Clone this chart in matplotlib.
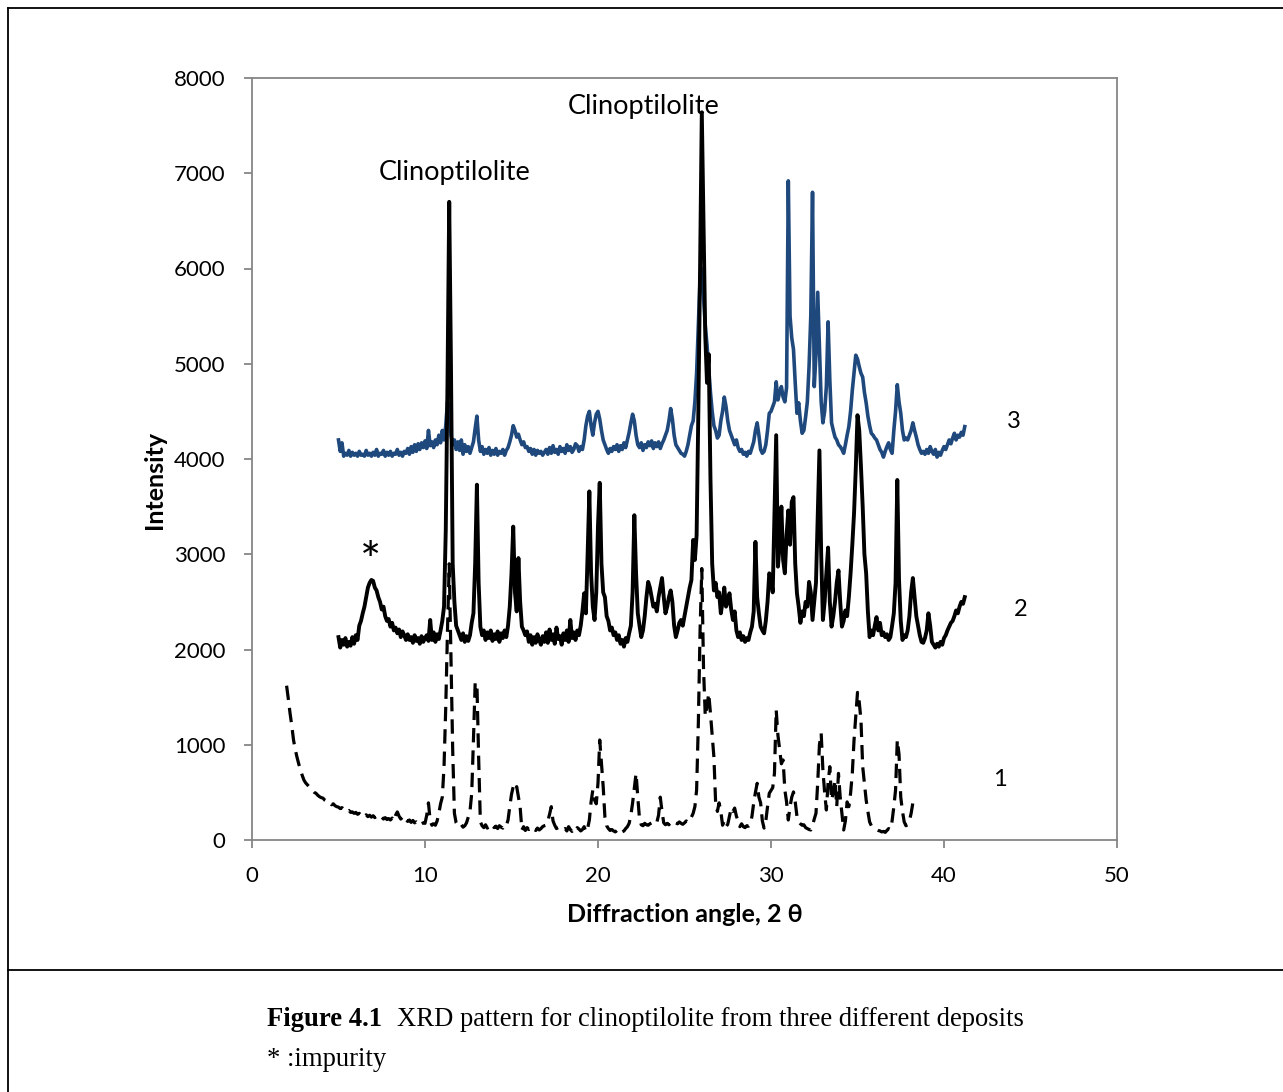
import numpy as np
import matplotlib
matplotlib.use("Agg")
import matplotlib.pyplot as plt
from matplotlib.lines import Line2D

# ---- data -------------------------------------------------------------
STEP = 0.1
start1, start2, start3 = 2.0, 5.0, 5.0

# Deposit 1 (dashed), 2.0 .. 38.3
y1 = [
    1620, 1480, 1330, 1200, 1050, 950, 870, 800, 735, 680,
    630, 600, 580, 560, 545, 520, 500, 490, 470, 455,
    445, 440, 420, 410, 390, 395, 370, 380, 360, 350,
    345, 330, 340, 320, 325, 300, 310, 290, 295, 280,
    290, 270, 280, 260, 275, 250, 265, 245, 260, 240,
    255, 235, 250, 230, 245, 240, 220, 235, 215, 225,
    210, 230, 200, 260, 295, 250, 220, 240, 200, 215,
    195, 210, 185, 205, 180, 190, 175, 195, 170, 180,
    175, 260, 390, 200, 155, 170, 155, 200, 280, 380,
    450, 770, 1400, 2200, 2900, 1900, 950, 280, 180, 150,
    140, 160, 135, 150, 180, 240, 300, 490, 1050, 1650,
    1650, 870, 190, 150, 130, 160, 125, 140, 120, 150,
    130, 145, 120, 150, 135, 125, 160, 150, 210, 350,
    480, 560, 520, 560, 450, 345, 105, 140, 100, 130,
    110, 120, 95, 115, 100, 125, 105, 120, 140, 150,
    155, 200, 270, 350, 200, 155, 120, 130, 110, 105,
    105, 120, 95, 140, 110, 90, 120, 100, 130, 115,
    95, 110, 140, 85, 120, 210, 400, 525, 420, 380,
    600, 1050, 800, 560, 240, 150, 120, 100, 110, 95,
    85, 100, 90, 110, 85, 95, 120, 140, 175, 260,
    390, 550, 700, 450, 220, 160, 150, 175, 160, 155,
    170, 180, 160, 175, 185, 260, 450, 300, 180, 160,
    175, 160, 185, 170, 165, 180, 170, 190, 175, 165,
    180, 200, 185, 195, 240, 280, 350, 525, 1225, 2200,
    2850, 1800, 1300, 1400, 1540, 1330, 1100, 870, 390, 300,
    390, 300, 155, 200, 140, 165, 250, 335, 300, 335,
    250, 200, 140, 170, 140, 130, 150, 145, 160, 250,
    390, 500, 595, 450, 390, 200, 125, 200, 350, 490,
    520, 550, 700, 1365, 1100, 945, 800, 840, 525, 400,
    210, 350, 450, 505, 400, 250, 190, 170, 155, 160,
    130, 120, 110, 105, 150, 220, 280, 600, 1000, 1120,
    735, 500, 315, 600, 770, 420, 500, 630, 350, 700,
    450, 280, 105, 200, 400, 350, 490, 700, 1050, 1300,
    1550, 1450, 1260, 770, 600, 420, 300, 190, 150, 130,
    120, 110, 100, 95, 85, 90, 80, 100, 120, 110,
    200, 350, 525, 1050, 900, 450, 300, 190, 150, 160,
    200, 280, 390, 380,
]

# Deposit 2 (solid black), 5.0 .. 41.2
y2 = [
    2130, 2020, 2100, 2050, 2120, 2030, 2080, 2040, 2130, 2060,
    2150, 2100, 2250, 2300, 2380, 2450, 2550, 2650, 2700, 2730,
    2720, 2650, 2620, 2550, 2500, 2420, 2450, 2350, 2300, 2320,
    2240, 2280, 2200, 2230, 2170, 2210, 2130, 2190, 2150, 2100,
    2160, 2100, 2130, 2070, 2150, 2090, 2120, 2060, 2140, 2080,
    2120, 2150, 2090, 2310, 2100, 2180, 2080, 2160, 2110, 2200,
    2300, 2450, 3250, 4800, 6700, 5000, 2900, 2500, 2250, 2200,
    2150, 2100, 2170, 2080, 2140, 2090, 2150, 2280, 2380, 2900,
    3730, 2700, 2240, 2150, 2200, 2100, 2180, 2120, 2200, 2090,
    2160, 2110, 2190, 2080, 2170, 2120, 2200, 2130, 2250, 2450,
    2800, 3290, 2600, 2400, 2960, 2500, 2240, 2200, 2150, 2190,
    2080, 2150, 2050, 2130, 2070, 2160, 2100, 2050, 2140, 2080,
    2180, 2070, 2210, 2100, 2160, 2060, 2230, 2110, 2140, 2050,
    2170, 2100, 2200, 2080, 2310, 2120, 2180, 2100, 2200, 2150,
    2250, 2400, 2590, 2380, 3000, 3660, 2800, 2450, 2310, 2600,
    3300, 3750, 2900, 2600, 2550, 2350, 2300, 2200, 2230, 2150,
    2180, 2100, 2150, 2060, 2100, 2030, 2120, 2080, 2170, 2250,
    2600, 3410, 2800, 2380, 2250, 2130, 2200, 2350, 2550, 2710,
    2650, 2550, 2450, 2480, 2400, 2550, 2650, 2750, 2550, 2380,
    2450, 2550, 2620, 2500, 2250, 2130, 2200, 2280, 2310, 2250,
    2350, 2450, 2550, 2650, 2730, 3150, 2940, 3200, 4500, 6000,
    7640, 6500, 5300, 4800, 5100, 3800, 2900, 2620, 2700, 2550,
    2600, 2380, 2500, 2650, 2450, 2500, 2590, 2420, 2310, 2400,
    2200, 2130, 2180, 2100, 2140, 2080, 2120, 2100, 2180, 2240,
    2400, 3130, 2550, 2380, 2240, 2200, 2170, 2300, 2500, 2800,
    2750, 2600, 3400, 4250, 2870, 3100, 3500, 2940, 2800, 3200,
    3460, 3100, 3550, 3600, 2900, 2590, 2450, 2280, 2400, 2350,
    2500, 2450, 2710, 2600, 2310, 2500, 2700, 3400, 4090, 3000,
    2310, 2500, 2800, 3070, 2500, 2240, 2350, 2500, 2700, 2830,
    2500, 2240, 2300, 2410, 2350, 2550, 2800, 3100, 3430, 3900,
    4460, 4300, 3920, 3500, 3000, 2800, 2400, 2130, 2200, 2150,
    2250, 2340, 2200, 2280, 2150, 2180, 2130, 2160, 2100, 2130,
    2250, 2380, 2700, 3780, 2730, 2300, 2100, 2150, 2130, 2200,
    2350, 2600, 2750, 2550, 2350, 2250, 2150, 2080, 2070, 2120,
    2200, 2380, 2250, 2080, 2050, 2020, 2060, 2030, 2080, 2050,
    2120, 2150, 2200, 2240, 2280, 2300, 2350, 2410, 2380, 2450,
    2500, 2480, 2550,
]

# Deposit 3 (blue), 5.0 .. 41.2
y3 = [
    4200, 4080, 4170, 4030, 4060, 4040, 4090, 4030, 4070, 4040,
    4060, 4030, 4080, 4040, 4050, 4030, 4090, 4040, 4060, 4030,
    4070, 4040, 4100, 4030, 4060, 4050, 4090, 4030, 4070, 4040,
    4080, 4030, 4060, 4050, 4100, 4040, 4070, 4030, 4080, 4060,
    4110, 4050, 4130, 4070, 4150, 4080, 4160, 4100, 4170, 4120,
    4190, 4110, 4300, 4140, 4180, 4120, 4200, 4150, 4250, 4170,
    4300, 4200, 4350, 4600, 4550, 4250, 4150, 4200, 4100, 4180,
    4090, 4200, 4050, 4150, 4080, 4130, 4060, 4120, 4180, 4320,
    4450, 4200, 4080, 4130, 4050, 4100, 4060, 4120, 4040, 4090,
    4050, 4110, 4040, 4080, 4060, 4100, 4040, 4090, 4120, 4180,
    4250, 4350, 4300, 4230, 4260, 4200, 4150, 4180, 4120, 4130,
    4080, 4110, 4050, 4100, 4040, 4090, 4060, 4080, 4040, 4070,
    4100, 4050, 4120, 4060, 4140, 4070, 4100, 4050, 4130, 4080,
    4110, 4060, 4150, 4090, 4130, 4070, 4100, 4160, 4140, 4080,
    4130, 4100, 4200, 4350, 4450, 4500, 4350, 4250, 4380, 4470,
    4500, 4420, 4300, 4200, 4150, 4100, 4060, 4110, 4080, 4130,
    4100, 4150, 4080, 4140, 4100, 4170, 4120, 4200, 4280, 4380,
    4470, 4400, 4250, 4150, 4120, 4170, 4090, 4150, 4120, 4180,
    4140, 4190, 4110, 4170, 4130, 4180, 4110, 4160, 4200, 4250,
    4300, 4400, 4530, 4420, 4250, 4150, 4120, 4090, 4060, 4050,
    4030, 4080, 4150, 4250, 4350, 4400, 4600, 4900, 5400, 5900,
    6000, 5700, 5400, 5200, 4950, 4700, 4500, 4350, 4300, 4220,
    4250, 4400, 4500, 4650, 4550, 4400, 4300, 4250, 4200, 4150,
    4200, 4120, 4080, 4100, 4050, 4070, 4030, 4080, 4060, 4120,
    4180, 4300, 4380, 4250, 4100, 4060, 4080, 4150, 4300, 4480,
    4500, 4550, 4600, 4810, 4620, 4700, 4760, 4650, 4600, 4750,
    6920, 5500, 5270, 5150, 4800, 4480, 4590, 4400, 4270, 4300,
    4440, 4600, 4970, 5500, 6800, 4760, 5100, 5750, 5180, 4600,
    4380, 4500, 4760, 5440, 4830, 4380, 4300, 4230, 4200, 4150,
    4130, 4100, 4060, 4150, 4250, 4340, 4500, 4720, 4900, 5090,
    5050, 4970, 4900, 4860, 4700, 4590, 4450, 4350, 4270, 4250,
    4220, 4200, 4150, 4100, 4070, 4020, 4080, 4130, 4170, 4100,
    4060, 4300, 4500, 4780, 4600, 4480, 4300, 4200, 4220, 4200,
    4250, 4300, 4380, 4300, 4230, 4150, 4100, 4060, 4080, 4050,
    4100, 4060, 4130, 4080, 4050, 4100, 4020, 4070, 4040, 4090,
    4130, 4100, 4150, 4200, 4160, 4220, 4270, 4200, 4250, 4230,
    4280, 4250, 4340,
]

x1 = start1 + STEP * np.arange(len(y1))
x2 = start2 + STEP * np.arange(len(y2))
x3 = start3 + STEP * np.arange(len(y3))

x_ticks = [0, 10, 20, 30, 40, 50]
y_ticks = [0, 1000, 2000, 3000, 4000, 5000, 6000, 7000, 8000]
series_labels = ["1", "2", "3"]
peak_label = "Clinoptilolite"

# ---- figure -----------------------------------------------------------
W, H = 1283, 1092
fig = plt.figure(figsize=(W / 100, H / 100), dpi=100)
ax = fig.add_axes([252 / W, 1 - 840 / H, (1117 - 252) / W, (840 - 78) / H])

SANS = ["Lato", "DejaVu Sans"]
BLUE = "#1F497D"
GRAY = "#868686"

ax.plot(x3, y3, color=BLUE, lw=2.6, zorder=2, solid_joinstyle="round")
ax.plot(x2, y2, color="black", lw=2.8, zorder=3, solid_joinstyle="round")
ax.plot(x1, y1, color="black", lw=2.3, ls=(0, (4.5, 2.5)), zorder=4)

ax.set_xlim(0, 50)
ax.set_ylim(0, 8000)
ax.set_xticks(x_ticks)
ax.set_yticks(y_ticks)
ax.set_xticklabels([str(v) for v in x_ticks], fontfamily=SANS, fontsize=16)
ax.set_yticklabels([str(v) for v in y_ticks], fontfamily=SANS, fontsize=16)
for s in ax.spines.values():
    s.set_color(GRAY)
    s.set_linewidth(1.3)
ax.tick_params(direction="out", length=6, width=1.3, color=GRAY, pad=13)

ax.set_xlabel("Diffraction angle, 2 \u03b8", fontfamily=["Lato", "Liberation Serif"],
              fontsize=18, fontweight="bold")
ax.set_ylabel("Intensity", fontfamily=SANS, fontsize=18, fontweight="bold")
ax.xaxis.set_label_coords(0.5006, -0.0827)
ax.yaxis.set_label_coords(-0.0994, 0.472)

ax.text(11.73, 7013, peak_label, fontfamily=SANS, fontsize=19.5, ha="center", va="center")
ax.text(22.66, 7700, peak_label, fontfamily=SANS, fontsize=19.5, ha="center", va="center")
ax.text(6.88, 2900, "*", fontfamily=SANS, fontsize=36, ha="center", va="center")
ax.text(44.05, 4390, series_labels[2], fontfamily=SANS, fontsize=17, ha="center", va="center")
ax.text(44.45, 2415, series_labels[1], fontfamily=SANS, fontsize=17, ha="center", va="center")
ax.text(43.24, 630, series_labels[0], fontfamily=SANS, fontsize=17, ha="center", va="center")

# figure frame
def fl(x0, y0, x1_, y1_):
    fig.add_artist(Line2D([x0 / W, x1_ / W], [1 - y0 / H, 1 - y1_ / H],
                          transform=fig.transFigure, color="black", lw=1.3))
fl(8, 8, 1283, 8)
fl(8, 8, 8, 1092)
fl(8, 970, 1283, 970)

# caption
CAP = 19.2
fig.text(267 / W, 1 - 1020 / H, "Figure 4.1", fontfamily="Liberation Serif",
         fontweight="bold", fontsize=CAP, ha="left", va="center")
fig.text(397 / W, 1 - 1020 / H, "XRD pattern for clinoptilolite from three different deposits",
         fontfamily="Liberation Serif", fontsize=CAP, ha="left", va="center")
fig.text(267 / W, 1 - 1060 / H, "* :impurity", fontfamily="Liberation Serif",
         fontsize=CAP, ha="left", va="center")

fig.savefig("out.png", dpi=100)
